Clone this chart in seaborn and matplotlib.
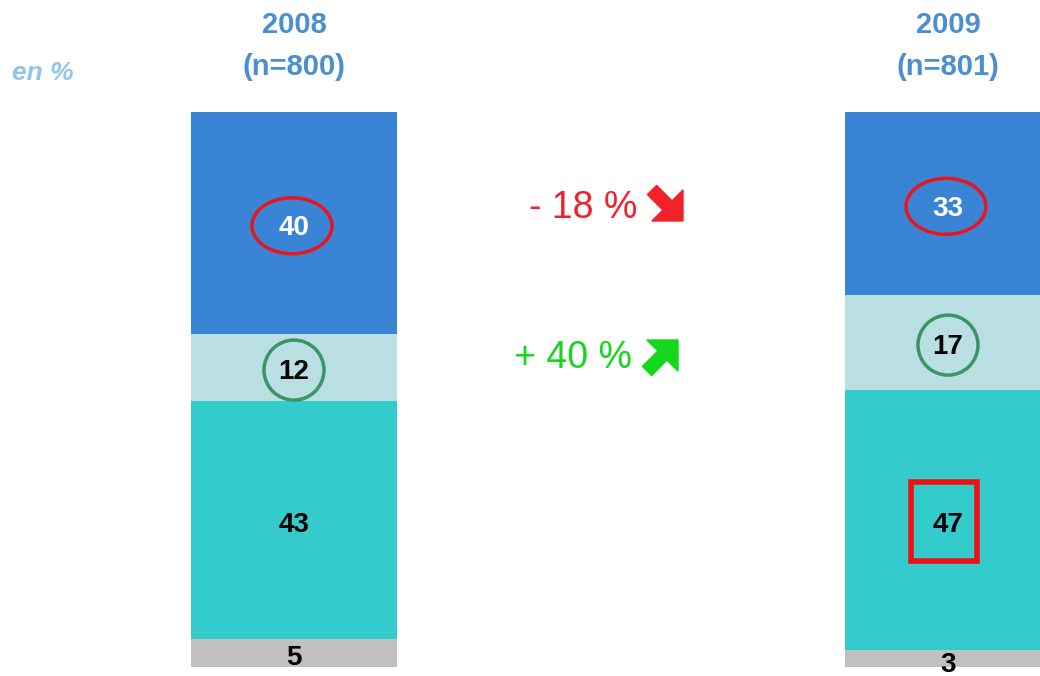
import matplotlib
matplotlib.use("Agg")
import matplotlib.pyplot as plt
from matplotlib.patches import Ellipse, Rectangle, FancyArrow
import seaborn as sns
import numpy as np
import pandas as pd

# données (en %)
years = ["2008", "2009"]
sample_sizes = [800, 801]
share_other = [5, 3]
share_teal = [43, 47]
share_light = [12, 17]
share_blue = [40, 33]

layers = [share_other, share_teal, share_light, share_blue]
layer_colors = ["#C0C0C0", "#33CBCB", "#B9DFE3", "#3A84D6"]
label_colors = ["black", "black", "black", "white"]

change_texts = ["- 18 %", "+ 40 %"]

sns.set_theme(style="white")
plt.rcParams["font.family"] = ["Liberation Sans", "DejaVu Sans"]

fig = plt.figure(figsize=(10.4, 6.76), dpi=100)
ax = fig.add_axes([0, 9 / 676, 1, 555 / 676])

# barres empilées : on dessine du haut vers le bas
cum = np.cumsum(np.array(layers), axis=0)
df = pd.DataFrame({"annee": years})
for i in range(len(layers) - 1, -1, -1):
    df["val"] = cum[i]
    sns.barplot(data=df, x="annee", y="val", color=layer_colors[i],
                saturation=1, width=0.315, linewidth=0, ax=ax)

ax.set_xlim(-0.4495, 1.1407)
ax.set_ylim(0, 100)
ax.axis("off")

# conversion pixels -> données
px_x = (1.1407 + 0.4495) / 1040
px_y = 100 / 555

for j in range(len(years)):
    bottom = 0
    for i, layer in enumerate(layers):
        mid = bottom + layer[j] / 2
        dy = -0.9
        if i == 0 and j == 1:
            dy = -1.1
        ax.text(j, mid + dy, f"{layer[j]}", ha="center", va="center",
                fontsize=20, fontweight="bold", color=label_colors[i], clip_on=False)
        # repères
        if i == 3:
            ax.add_patch(Ellipse((j - 2 * px_x, mid - 0.5), 80 * px_x, 56 * px_y, fill=False,
                                 edgecolor="#E8161C", linewidth=2.5))
        if i == 2:
            ax.add_patch(Ellipse((j, mid - 0.5), 60 * px_x, 60 * px_y, fill=False,
                                 edgecolor="#3A9464", linewidth=2.5))
        if i == 1 and j == 1:
            ax.add_patch(Rectangle((j - 37 * px_x, mid - 41 * px_y), 66 * px_x, 79 * px_y,
                                   fill=False, edgecolor="#F01010", linewidth=4))
        bottom += layer[j]

    ax.text(j, 100 + 66 * px_y, f"{years[j]}\n(n={sample_sizes[j]})", ha="center",
            va="center", fontsize=21, fontweight="bold", color="#4A8FCF",
            linespacing=1.65, clip_on=False)

fig.text(12 / 1040, 1 - 73 / 676, "en %", ha="left", va="center", fontsize=19,
         fontweight="bold", fontstyle="italic", color="#8EC5EA")

# évolutions
fig.text(637 / 1040, 1 - 208 / 676, change_texts[0], ha="right", va="center",
         fontsize=27, color="#F2222B")
fig.text(632 / 1040, 1 - 358 / 676, change_texts[1], ha="right", va="center",
         fontsize=27, color="#14D81C")

fig.add_artist(FancyArrow(6.52, 4.86, 0.31, -0.31, width=0.13, head_width=0.44,
                          head_length=0.22, length_includes_head=True,
                          color="#F2222B", transform=fig.dpi_scale_trans))
fig.add_artist(FancyArrow(6.47, 3.05, 0.31, 0.31, width=0.13, head_width=0.44,
                          head_length=0.22, length_includes_head=True,
                          color="#14D81C", transform=fig.dpi_scale_trans))

fig.savefig("out.png", dpi=100)
